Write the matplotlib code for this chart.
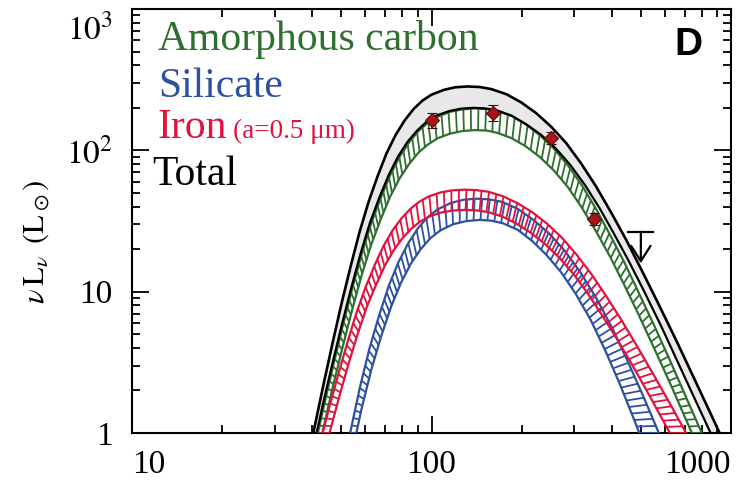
import numpy as np
import matplotlib
matplotlib.use("Agg")
import matplotlib.pyplot as plt
import matplotlib.transforms as mtransforms
from matplotlib.collections import LineCollection

plt.rcParams["font.family"] = ["Liberation Serif", "DejaVu Serif"]
plt.rcParams["mathtext.fontset"] = "stix"

# ---- model envelopes: wavelength (micron) vs nu L_nu (L_sun) ----
total_hi_wav = [38.0, 40.3, 43.7, 46.8, 50.1, 53.7, 57.5, 61.7, 66.1, 70.8, 75.9, 81.3, 87.1, 93.3, 100,
                110, 120, 132, 145, 158, 178, 200, 224, 251, 282, 316, 355, 398, 447, 501, 575, 661,
                759, 871, 1000]
total_hi_lum = [0.55, 1.0, 2.26, 4.39, 8.28, 15.1, 26.4, 43.4, 65.8, 95.5, 128.5, 162.6, 195.9, 224.9,
                247.7, 267.9, 279.3, 283.1, 280.5, 271.6, 249.5, 217.3, 182.8, 146.9, 112.2, 80.7, 55.2,
                36.3, 23.2, 14.45, 8.04, 4.38, 2.35, 1.26, 0.67]
total_lo_wav = [37.6, 39.9, 43.4, 46.7, 50.2, 54.0, 58.0, 62.3, 67.0, 72.1, 77.4, 83.2, 89.5, 96.2, 103,
                114, 125, 138, 151, 165, 185, 207, 232, 259, 290, 325, 364, 407, 456, 511, 585, 668, 765,
                877, 1005]
total_lo_lum = [0.39, 0.71, 1.60, 3.10, 5.85, 10.7, 18.7, 30.7, 46.5, 67.5, 90.8, 115, 138, 159, 175, 189,
                197, 200, 198, 192, 176, 153, 129, 104, 79.3, 57.0, 39.0, 25.6, 16.4, 10.2, 5.68, 3.09,
                1.66, 0.89, 0.47]

carbon_hi_wav = [37.8, 40.2, 43.8, 47.1, 50.6, 54.4, 58.5, 62.9, 67.7, 72.8, 78.2, 84.2, 90.5, 97.3, 105,
                 115, 127, 140, 153, 166, 185, 207, 230, 256, 285, 318, 354, 394, 440, 489, 557, 634, 721,
                 820, 935]
carbon_hi_lum = [0.38, 0.70, 1.58, 3.07, 5.79, 10.6, 18.5, 30.4, 46.0, 66.8, 89.9, 114, 137, 157, 173, 187,
                 195, 198, 196, 190, 175, 152, 128, 103, 78.5, 56.5, 38.6, 25.4, 16.2, 10.1, 5.62, 3.06,
                 1.64, 0.88, 0.47]
carbon_lo_wav = [40.1, 43.7, 46.9, 50.5, 54.3, 58.4, 62.8, 67.6, 72.7, 78.2, 84.1, 90.4, 97.3, 105, 115,
                 127, 140, 153, 166, 185, 206, 230, 256, 285, 317, 353, 394, 438, 488, 555, 632, 719, 818]
carbon_lo_lum = [0.49, 1.11, 2.15, 4.06, 7.41, 13.0, 21.3, 32.3, 46.9, 63.1, 79.8, 96.2, 110, 122, 131,
                 137, 139, 138, 133, 122, 107, 89.7, 72.1, 55.1, 39.6, 27.1, 17.8, 11.4, 7.10, 3.94, 2.15,
                 1.15, 0.62]

iron_hi_wav = [39.4, 42.7, 45.7, 49.0, 52.5, 56.2, 60.3, 64.6, 69.2, 74.1, 79.4, 85.1, 91.2, 97.7, 107,
               117, 129, 141, 155, 173, 194, 217, 243, 272, 305, 342, 383, 429, 480, 550, 631, 723, 828]
iron_hi_lum = [0.45, 0.89, 1.56, 2.67, 4.44, 7.12, 10.8, 15.4, 21.1, 27.1, 33.0, 38.6, 43.4, 47.1, 50.3,
               52.1, 52.7, 52.3, 50.9, 47.4, 42.2, 36.5, 30.3, 24.2, 18.3, 13.3, 9.31, 6.38, 4.29, 2.61,
               1.56, 0.92, 0.55]
iron_lo_wav = [40.0, 43.3, 46.3, 49.6, 53.1, 56.9, 60.8, 65.2, 69.8, 74.6, 79.9, 85.5, 91.6, 98.1, 107,
               118, 129, 141, 154, 172, 192, 214, 239, 267, 299, 334, 373, 417, 466, 532, 607, 693]
iron_lo_lum = [0.32, 0.64, 1.12, 1.92, 3.20, 5.13, 7.80, 11.1, 15.2, 19.5, 23.8, 27.8, 31.3, 33.9, 36.2,
               37.5, 37.9, 37.6, 36.6, 34.1, 30.3, 26.2, 21.8, 17.4, 13.2, 9.55, 6.70, 4.59, 3.08, 1.87,
               1.12, 0.67]

silicate_hi_wav = [49.6, 53.5, 57.6, 62.1, 66.9, 72.1, 77.7, 83.7, 90.2, 97.2, 105, 116, 128, 141, 156,
                   172, 194, 219, 247, 279, 315, 356, 403, 454, 513, 580, 670]
silicate_hi_lum = [0.46, 1.0, 2.08, 3.98, 6.82, 11.1, 16.3, 22.1, 28.2, 33.7, 38.3, 42.4, 44.7, 45.5, 45.0,
                   43.2, 38.6, 32.2, 25.8, 19.4, 13.6, 8.91, 5.43, 3.15, 1.76, 0.95, 0.44]
silicate_lo_wav = [54.2, 58.4, 63.0, 67.9, 73.3, 79.0, 85.2, 91.9, 99.1, 107, 118, 131, 145, 158, 173, 194,
                   217, 242, 271, 303, 340, 380, 425, 475, 532]
silicate_lo_lum = [0.71, 1.48, 2.82, 4.83, 7.83, 11.5, 15.7, 19.9, 23.9, 27.1, 30.0, 31.6, 32.2, 31.8, 30.5,
                   27.4, 22.8, 18.2, 13.7, 9.66, 6.31, 3.85, 2.23, 1.24, 0.67]

# ---- photometry ----
obs_wav = [100, 160, 250, 350]
obs_lum = [164, 184, 122, 32.7]
obs_err = [20, 24, 12, 3.3]
limit_wav = 500
limit_lum = 26.5

# ---- axis ticks ----
x_ticks = [10, 100, 1000]
x_labels = ["10", "100", "1000"]
y_ticks = [1, 10, 100, 1000]
y_labels = ["1", "10", r"$10^2$", r"$10^3$"]

GREEN = "#2f6f2f"
BLUE = "#2d50a0"
RED = "#e0123e"
GREY = "#e8e8e8"
POINT = "#a8141c"

W, H = 738, 482
fig = plt.figure(figsize=(W / 100, H / 100), dpi=100)
ax = fig.add_axes([132 / W, 49 / H, 599 / W, 424 / H])
ax.set_xscale("log")
ax.set_yscale("log")
ax.set_xlim(10, 985)
ax.set_ylim(1, 1000)


def _trim(p, ymin):
    """Keep the part of a display-space polyline lying above ymin."""
    idx = np.where(p[:, 1] >= ymin)[0]
    i0, i1 = idx[0], idx[-1]
    out = []
    if i0 > 0:
        a, b = p[i0 - 1], p[i0]
        t = (ymin - a[1]) / (b[1] - a[1])
        out.append(a + t * (b - a))
    out.extend(p[i0:i1 + 1])
    if i1 < len(p) - 1:
        a, b = p[i1], p[i1 + 1]
        t = (ymin - a[1]) / (b[1] - a[1])
        out.append(a + t * (b - a))
    return np.array(out)


def ladder(ax, wa, la, wb, lb, color, lw, spacing=7.5, z=3):
    """Cross-rungs joining two envelope curves at equal fractions of their visible length."""
    T = ax.transData
    ymin = T.transform((10, ax.get_ylim()[0]))[1]
    pa = _trim(T.transform(np.column_stack([wa, la])), ymin)
    pb = _trim(T.transform(np.column_stack([wb, lb])), ymin)

    def along(p, m):
        d = np.r_[0, np.cumsum(np.hypot(*np.diff(p, axis=0).T))]
        t = np.linspace(0, d[-1], m)
        return np.column_stack([np.interp(t, d, p[:, 0]), np.interp(t, d, p[:, 1])])

    length = np.hypot(*np.diff(pa, axis=0).T).sum()
    m = int(length / spacing)
    inv = T.inverted()
    qa = inv.transform(along(pa, m))
    qb = inv.transform(along(pb, m))
    segs = [[qa[i], qb[i]] for i in range(m)]
    ax.add_collection(LineCollection(segs, colors=color, linewidths=lw, zorder=z))


# total envelope: grey band between black curves
ax.fill(np.r_[total_hi_wav, total_lo_wav[::-1]], np.r_[total_hi_lum, total_lo_lum[::-1]],
        color=GREY, lw=0, zorder=1)

bands = [
    (carbon_hi_wav, carbon_hi_lum, carbon_lo_wav, carbon_lo_lum, GREEN, 3),
    (silicate_hi_wav, silicate_hi_lum, silicate_lo_wav, silicate_lo_lum, BLUE, 4),
    (iron_hi_wav, iron_hi_lum, iron_lo_wav, iron_lo_lum, RED, 5),
]
for wh, lh, wl, ll, col, z in bands:
    ladder(ax, wh, lh, wl, ll, col, 1.3, z=z)
    ax.plot(wh, lh, color=col, lw=1.6, zorder=z + 0.1)
    ax.plot(wl, ll, color=col, lw=1.6, zorder=z + 0.1)

ax.plot(total_hi_wav, total_hi_lum, color="black", lw=1.9, zorder=6)
ax.plot(total_lo_wav, total_lo_lum, color="black", lw=1.6, zorder=6)

ax.errorbar(obs_wav, obs_lum, yerr=obs_err, fmt="D", ms=7, mfc=POINT, mec="#5a0a0a", mew=0.8,
            ecolor="#301010", elinewidth=1.2, capsize=3.5, capthick=1.2, zorder=8)

# upper limit: bar with a downward arrow
ax.plot([limit_wav / 1.1, limit_wav * 1.1], [limit_lum, limit_lum], color="black", lw=1.6, zorder=8)
ax.annotate("", xy=(limit_wav, limit_lum * 0.6), xytext=(limit_wav, limit_lum),
            arrowprops=dict(arrowstyle="->,head_length=0.55,head_width=0.35", mutation_scale=20,
                            color="black", lw=1.6, shrinkA=0, shrinkB=0),
            zorder=8)

# axes styling
ax.set_xticks(x_ticks)
ax.set_xticklabels(x_labels)
ax.set_yticks(y_ticks)
ax.set_yticklabels(y_labels)
ax.tick_params(which="both", direction="in", top=True, right=True, width=1.3)
ax.tick_params(which="major", length=12, labelsize=24)
ax.tick_params(which="minor", length=6)
ax.tick_params(axis="x", pad=12)
ax.tick_params(axis="y", pad=14)
for s in ax.spines.values():
    s.set_linewidth(1.5)
xl = ax.get_xticklabels()
xl[0].set_ha("left")
xl[-1].set_ha("right")
top_label = ax.get_yticklabels()[-1]
top_label.set_transform(top_label.get_transform()
                        + mtransforms.ScaledTranslation(0, -13 / 72, fig.dpi_scale_trans))

fig.text(36 / W, 1 - 242 / H, r"$\nu\,\mathrm{L}_\nu\;\;(\mathrm{L}_\odot)$", rotation=90,
         ha="center", va="center", fontsize=22)

# labels
tx = 0.043
ax.text(tx, 0.903, "Amorphous carbon", transform=ax.transAxes, color=GREEN, fontsize=30, va="baseline")
ax.text(tx, 0.792, "Silicate", transform=ax.transAxes, color=BLUE, fontsize=30, va="baseline")
ax.text(tx, 0.696, "Iron", transform=ax.transAxes, color=RED, fontsize=30, va="baseline")
ax.text(0.168, 0.696, "(a=0.5 μm)", transform=ax.transAxes, color=RED, fontsize=19.5, va="baseline")
ax.text(tx - 0.01, 0.585, "Total", transform=ax.transAxes, color="black", fontsize=30, va="baseline")
ax.text(0.953, 0.8915, "D", transform=ax.transAxes, color="black", fontsize=28, fontweight="bold",
        family="Liberation Sans", ha="right", va="baseline")

fig.savefig("out.png", dpi=100)
